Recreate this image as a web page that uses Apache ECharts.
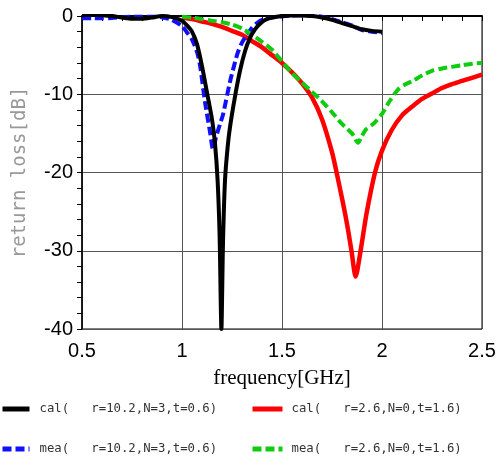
<!DOCTYPE html>
<html><head><meta charset="utf-8">
<script src="https://cdn.jsdelivr.net/npm/echarts@6/dist/echarts.min.js"></script>
<style>html,body{margin:0;padding:0;background:#fff}#c{width:501px;height:466px}</style>
</head><body><div id="c"></div>
<script>
// ---- data (frequency in GHz, return loss in dB) ----
const calA_f = [0.5,0.55,0.6,0.65,0.7,0.75,0.8,0.85,0.9,0.95,1.0,1.025,1.05,1.075,1.1,1.125,1.15,1.165,1.178,1.188,1.197,1.205,1.215,1.228,1.24,1.265,1.29,1.315,1.34,1.365,1.39,1.415,1.45,1.5,1.55,1.6,1.65,1.7,1.75,1.8,1.85,1.9,1.95,2.0];
const calA_v = [0.1,0.15,0.1,0.0,-0.2,-0.35,-0.35,-0.2,0.0,-0.15,-0.6,-1.2,-2.0,-3.6,-6.4,-9.8,-13.2,-16.3,-21,-28,-40,-29,-21,-16.8,-14.2,-10.3,-7.0,-4.5,-2.8,-1.7,-1.0,-0.5,-0.2,0.0,0.05,0.05,0.0,-0.2,-0.5,-0.9,-1.3,-1.7,-1.9,-2.0];

const meaA_f = [0.5,0.55,0.6,0.65,0.7,0.75,0.8,0.85,0.9,0.95,1.0,1.025,1.05,1.075,1.09,1.115,1.14,1.155,1.17,1.19,1.205,1.24,1.265,1.28,1.3,1.325,1.35,1.375,1.4,1.45,1.5,1.55,1.6,1.65,1.7,1.75,1.8,1.85,1.9,1.95,2.0];
const meaA_v = [-0.3,-0.3,-0.3,-0.25,-0.15,-0.1,-0.1,-0.1,-0.15,-0.5,-1.3,-2.1,-3.0,-4.6,-6.3,-11.0,-14.8,-17,-15.5,-13.8,-12.6,-8.4,-5.9,-4.6,-3.4,-2.4,-1.5,-0.9,-0.5,-0.2,-0.05,0.05,0.1,0.05,-0.1,-0.4,-0.8,-1.2,-1.8,-2.0,-2.2];

const calB_f = [1.0,1.05,1.1,1.15,1.2,1.25,1.3,1.35,1.4,1.45,1.5,1.55,1.6,1.65,1.7,1.75,1.773,1.8,1.815,1.83,1.848,1.868,1.893,1.923,1.965,2.0,2.048,2.1,2.15,2.2,2.25,2.3,2.35,2.4,2.45,2.5];
const calB_v = [-0.2,-0.4,-0.7,-1.0,-1.4,-1.9,-2.4,-3.2,-4.0,-5.0,-6.0,-7.2,-8.6,-10.4,-13.2,-17.4,-20,-23.3,-25.2,-27.3,-30.1,-33.3,-30,-25.2,-20,-17.2,-14.6,-12.7,-11.6,-10.6,-9.9,-9.2,-8.7,-8.3,-7.9,-7.5];

const meaB_f = [1.0,1.05,1.1,1.15,1.2,1.25,1.3,1.35,1.4,1.45,1.5,1.55,1.6,1.65,1.7,1.75,1.8,1.85,1.88,1.9,1.92,1.96,2.0,2.04,2.08,2.12,2.16,2.2,2.25,2.3,2.35,2.4,2.45,2.5];
const meaB_v = [-0.1,-0.2,-0.4,-0.6,-0.8,-1.1,-1.6,-2.4,-3.3,-4.3,-5.8,-7.3,-8.5,-9.7,-10.9,-12.3,-13.8,-15.0,-16.2,-15.3,-14.5,-13.7,-12.5,-10.8,-9.4,-8.7,-8.2,-7.6,-7.0,-6.7,-6.5,-6.3,-6.1,-6.0];

const names = ['cal(   r=10.2,N=3,t=0.6)','cal(   r=2.6,N=0,t=1.6)','mea(   r=10.2,N=3,t=0.6)','mea(   r=2.6,N=0,t=1.6)'];
const xTitle = 'frequency[GHz]';
const yTitle = 'return loss[dB]';

const zip = (f, v) => f.map((x, i) => [x, v[i]]);

const chart = echarts.init(document.getElementById('c'), null, {renderer: 'canvas'});
function leg(name, left, top, w, pad) {
  return {data: [name], left: left, top: top, itemWidth: w, itemHeight: 14,
          textStyle: {fontFamily: 'DejaVu Sans Mono', fontSize: 12.3, color: '#333', padding: [0,0,0,pad]},
          selectedMode: false, padding: 0, itemStyle: {opacity: 0}, lineStyle: {width: 5}};
}
chart.setOption({
  animation: false,
  grid: {left: 82, right: 19, top: 16, bottom: 137, show: true, borderColor: '#000', borderWidth: 1},
  legend: [leg(names[0], 0, 403, 27, 5), leg(names[1], 250, 403, 30, 4), leg(names[2], 0, 443, 27, 5), leg(names[3], 250, 443, 30, 4)],
  xAxis: {
    type: 'value', min: 0.5, max: 2.5, interval: 0.5,
    name: xTitle, nameLocation: 'middle', nameGap: 39,
    nameTextStyle: {fontFamily: 'Liberation Serif', fontSize: 21, color: '#000'},
    axisLine: {lineStyle: {color: '#000', width: 2}},
    axisTick: {inside: false, length: 5, lineStyle: {color: '#000'}},
    minorTick: {show: true, splitNumber: 5, length: 5, lineStyle: {color: '#000'}},
    axisLabel: {fontFamily: 'Liberation Sans', fontSize: 20, color: '#000', margin: 12,
      formatter: v => String(v)},
    splitLine: {show: true, lineStyle: {color: '#555', width: 1}}
  },
  yAxis: {
    type: 'value', min: -40, max: 0, interval: 10,
    name: yTitle, nameLocation: 'middle', nameGap: 52, nameRotate: 90,
    nameTextStyle: {fontFamily: 'DejaVu Sans Mono', fontSize: 19, color: '#999'},
    axisLine: {lineStyle: {color: '#000', width: 1.5}},
    axisTick: {inside: false, length: 5, lineStyle: {color: '#000'}},
    minorTick: {show: true, splitNumber: 5, length: 5, lineStyle: {color: '#000'}},
    axisLabel: {fontFamily: 'Liberation Sans', fontSize: 20, color: '#000', margin: 9},
    splitLine: {show: true, lineStyle: {color: '#555', width: 1}}
  },
  series: [
    {name: names[0], type: 'line', data: zip(calA_f, calA_v), symbol: 'none', smooth: 0.25, z: 5,
     lineStyle: {color: '#000', width: 4}, itemStyle: {color: '#000'}},
    {name: names[1], type: 'line', data: zip(calB_f, calB_v), symbol: 'none', smooth: 0.25, z: 3,
     lineStyle: {color: '#ff0000', width: 4.5}, itemStyle: {color: '#ff0000'}},
    {name: names[2], type: 'line', data: zip(meaA_f, meaA_v), symbol: 'none', smooth: 0.25, z: 4,
     lineStyle: {color: '#1010ff', width: 4, type: [9, 4]}, itemStyle: {color: '#1010ff'}},
    {name: names[3], type: 'line', data: zip(meaB_f, meaB_v), symbol: 'none', smooth: 0.25, z: 4,
     lineStyle: {color: '#10cc10', width: 4, type: [9, 4]}, itemStyle: {color: '#10cc10'}}
  ]
});
</script></body></html>
